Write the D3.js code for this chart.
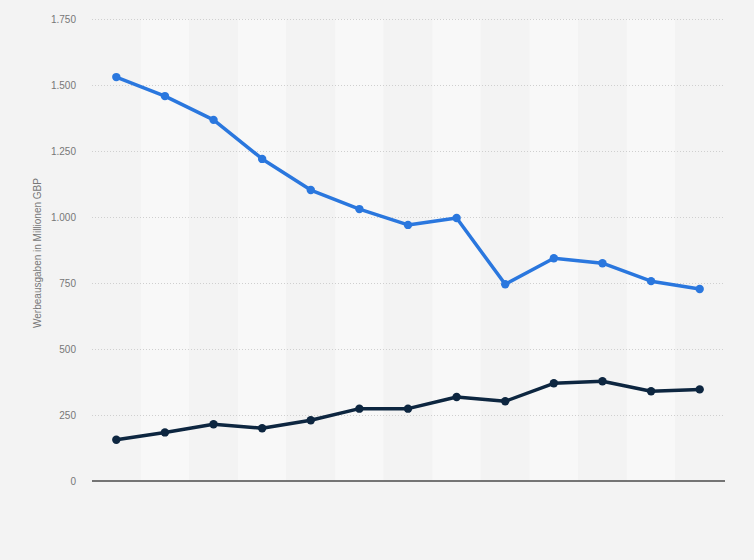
<!DOCTYPE html>
<html>
<head>
<meta charset="utf-8">
<script src="https://cdn.jsdelivr.net/npm/d3@7"></script>
<style>
  body { margin: 0; background: #f3f3f3; }
  svg { display: block; font-family: "Liberation Sans", Arial, sans-serif; }
</style>
</head>
<body>
<div id="chart"></div>
<script>
// Werbeausgaben (Mio. GBP), 13 Jahre, keine Jahreslabels im Bild
const periods = ["1", "2", "3", "4", "5", "6", "7", "8", "9", "10", "11", "12", "13"];
const seriesA = [1530, 1458, 1368, 1220, 1102, 1030, 970, 996, 745, 844, 825, 757, 727];
const seriesB = [156, 184, 215, 200, 230, 274, 274, 318, 302, 370, 378, 340, 347];
const yTicks = [0, 250, 500, 750, 1000, 1250, 1500, 1750];

const W = 754, H = 560;
const margin = { top: 19, right: 30, bottom: 79, left: 92 };
const width = W - margin.left - margin.right,
    height = H - margin.top - margin.bottom;

const svg = d3.select("#chart").append("svg")
    .attr("width", W)
    .attr("height", H);

const g = svg.append("g")
    .attr("transform", "translate(" + margin.left + "," + margin.top + ")");

const x = d3.scaleBand()
    .domain(periods)
    .range([0, width])
    .padding(0);

const y = d3.scaleLinear()
    .domain([0, 1750])
    .range([height, 0]);

// alternating column bands
g.selectAll(".band")
    .data(periods)
    .enter().append("rect")
    .attr("class", "band")
    .attr("x", d => x(d))
    .attr("y", 0)
    .attr("width", x.bandwidth())
    .attr("height", height)
    .attr("fill", (d, i) => i % 2 ? "#f8f8f8" : "#f3f3f3");

// gridlines + tick labels
const fmt = v => d3.format(",")(v).replace(/,/g, ".");
const yAxis = g.append("g")
    .call(d3.axisLeft(y).tickValues(yTicks).tickSize(-width).tickFormat(fmt));
yAxis.select(".domain").remove();
yAxis.selectAll(".tick line")
    .attr("stroke", "#cfcfcf")
    .attr("stroke-dasharray", "1,2")
    .attr("stroke-width", 1);
yAxis.selectAll(".tick text")
    .attr("x", -16)
    .attr("fill", "#777")
    .style("font-size", "10px");
yAxis.selectAll(".tick").filter(d => d === 0).select("line").remove();

// zero line
g.append("line")
    .attr("x1", 0)
    .attr("x2", width + 1)
    .attr("y1", y(0))
    .attr("y2", y(0))
    .attr("stroke", "#4a4a4a")
    .attr("stroke-width", 1.5);

// y title
svg.append("text")
    .attr("transform", "translate(41," + (margin.top + height / 2 + 3) + ") rotate(-90)")
    .attr("text-anchor", "middle")
    .attr("fill", "#777")
    .style("font-size", "10px")
    .text("Werbeausgaben in Millionen GBP");

const cx = d => x(d) + x.bandwidth() / 2;

function drawSeries(values, color) {
    const pts = periods.map((p, i) => [p, values[i]]);
    g.append("path")
        .datum(pts)
        .attr("fill", "none")
        .attr("stroke", color)
        .attr("stroke-width", 3.5)
        .attr("stroke-linejoin", "round")
        .attr("d", d3.line().x(d => cx(d[0])).y(d => y(d[1])));
    g.selectAll(null)
        .data(pts)
        .enter().append("circle")
        .attr("cx", d => cx(d[0]))
        .attr("cy", d => y(d[1]))
        .attr("r", 4.2)
        .attr("fill", color);
}

drawSeries(seriesB, "#0d2640");
drawSeries(seriesA, "#2a77de");
</script>
</body>
</html>
